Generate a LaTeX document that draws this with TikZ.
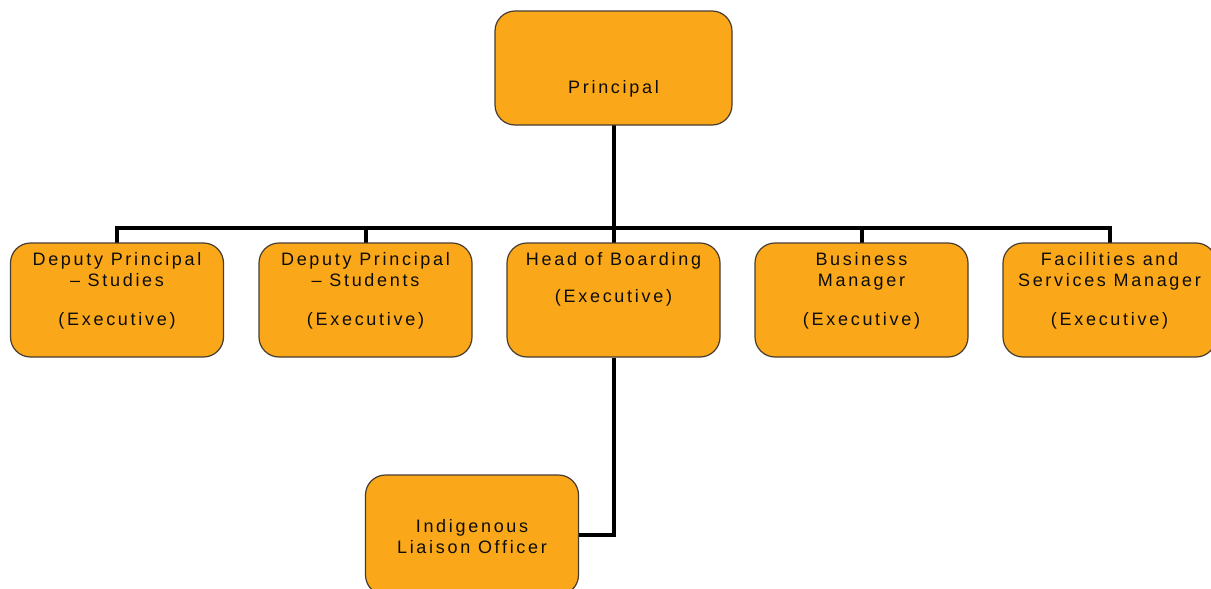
\documentclass[tikz,border=0pt]{standalone}
\usepackage{fontspec}
\setmainfont{Liberation Sans}[LetterSpace=15,Ligatures={NoCommon}]
\definecolor{boxfill}{RGB}{250,168,25}
\definecolor{boxedge}{RGB}{70,60,50}
\begin{document}
\begin{tikzpicture}[x=1pt,y=-1pt,
  orgbox/.style={draw=boxedge,line width=1.2pt,fill=boxfill,rounded corners=20pt,
    minimum width=213pt,minimum height=114pt,inner sep=0pt},
  txt/.style={anchor=base,inner sep=0pt,font=\fontsize{18}{21.5}\selectfont,text=black!95},
  conn/.style={line width=4pt,black,line cap=rect,line join=miter}]
\useasboundingbox (0,0) rectangle (1211,589);
\fill[white] (0,0) rectangle (1211,589);
\coordinate (bus) at (613.5,228);
% connectors (drawn under boxes)
\coordinate (c1) at (117,243);
\coordinate (c2) at (365.5,243);
\coordinate (c3) at (613.5,243);
\coordinate (c4) at (861.5,243);
\coordinate (c5) at (1109.5,243);
\coordinate (ptop) at (613.5,125);
\draw[conn] (ptop) -- (bus);
\draw[conn] (c1) -- (c1 |- bus) -- (c5 |- bus) -- (c5);
\draw[conn] (c2) -- (c2 |- bus);
\draw[conn] (c3) -- (c3 |- bus);
\draw[conn] (c4) -- (c4 |- bus);
% boxes
\node[orgbox,minimum width=237pt] (p) at (613.5,68) {};
\node[orgbox] (d1) at (117,300) {};
\node[orgbox] (d2) at (365.5,300) {};
\node[orgbox] (h) at (613.5,300) {};
\node[orgbox] (b) at (861.5,300) {};
\node[orgbox] (f) at (1109.5,300) {};
\node[orgbox,minimum height=120pt] (ilo) at (472,535) {};
\draw[conn,line cap=butt] (h.south) |- (ilo.east);
% texts
\node[txt] (tp) at (613.5,93) {Principal};
\node[txt] (td1) at (117,265) {\begin{tabular}[t]{@{}c@{}}Deputy Principal\\– Studies\\[17pt](Executive)\end{tabular}};
\node[txt] (td2) at (365.5,265) {\begin{tabular}[t]{@{}c@{}}Deputy Principal\\– Students\\[17pt](Executive)\end{tabular}};
\node[txt] (th) at (613.5,265) {\begin{tabular}[t]{@{}c@{}}Head of Boarding\\[16pt](Executive)\end{tabular}};
\node[txt] (tb) at (861.5,265) {\begin{tabular}[t]{@{}c@{}}Business\\Manager\\[17pt](Executive)\end{tabular}};
\node[txt] (tf) at (1109.5,265) {\begin{tabular}[t]{@{}c@{}}Facilities and\\Services Manager\\[17pt](Executive)\end{tabular}};
\node[txt] (tilo) at (472,532) {\begin{tabular}[t]{@{}c@{}}Indigenous\\Liaison Officer\end{tabular}};
\end{tikzpicture}
\end{document}
